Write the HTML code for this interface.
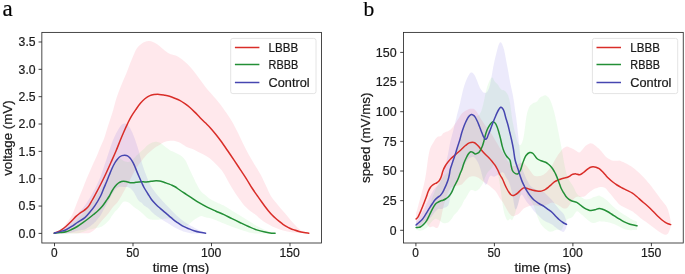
<!DOCTYPE html><html><head><meta charset="utf-8"><style>html,body{margin:0;padding:0;background:#fff;}svg{display:block;}text{font-family:"Liberation Sans",sans-serif;stroke:#1a1a1a;stroke-width:0.22px;}svg{will-change:transform;}</style></head><body>
<svg width="685" height="274" viewBox="0 0 685 274">
<rect width="685" height="274" fill="#fff"/>
<path d="M54.30 233.20 C54.92 232.83 56.58 231.85 58.00 231.00 C59.42 230.15 61.38 229.43 62.80 228.10 C64.22 226.77 65.15 224.87 66.50 223.00 C67.85 221.13 69.65 218.98 70.90 216.90 C72.15 214.82 73.07 212.65 74.00 210.50 C74.93 208.35 75.55 206.42 76.50 204.00 C77.45 201.58 78.62 198.67 79.70 196.00 C80.78 193.33 81.87 190.83 83.00 188.00 C84.13 185.17 85.33 181.83 86.50 179.00 C87.67 176.17 88.83 173.67 90.00 171.00 C91.17 168.33 92.30 165.67 93.50 163.00 C94.70 160.33 96.08 157.58 97.20 155.00 C98.32 152.42 99.05 150.25 100.20 147.50 C101.35 144.75 102.80 142.08 104.10 138.50 C105.40 134.92 106.63 130.25 108.00 126.00 C109.37 121.75 110.98 117.33 112.30 113.00 C113.62 108.67 114.72 103.83 115.90 100.00 C117.08 96.17 118.25 93.08 119.40 90.00 C120.55 86.92 121.60 84.37 122.80 81.50 C124.00 78.63 125.32 75.97 126.60 72.80 C127.88 69.63 129.15 65.90 130.50 62.50 C131.85 59.10 133.53 54.90 134.70 52.40 C135.87 49.90 136.47 48.87 137.50 47.50 C138.53 46.13 139.65 45.15 140.90 44.20 C142.15 43.25 143.65 42.32 145.00 41.80 C146.35 41.28 147.67 41.07 149.00 41.10 C150.33 41.13 151.63 41.48 153.00 42.00 C154.37 42.52 155.70 43.17 157.20 44.20 C158.70 45.23 160.30 46.83 162.00 48.20 C163.70 49.57 165.73 51.35 167.40 52.40 C169.07 53.45 170.28 53.83 172.00 54.50 C173.72 55.17 175.95 55.52 177.70 56.40 C179.45 57.28 180.80 58.43 182.50 59.80 C184.20 61.17 186.15 62.85 187.90 64.60 C189.65 66.35 191.30 68.25 193.00 70.30 C194.70 72.35 196.38 74.62 198.10 76.90 C199.82 79.18 201.60 81.73 203.30 84.00 C205.00 86.27 206.27 88.08 208.30 90.50 C210.33 92.92 213.12 95.67 215.50 98.50 C217.88 101.33 220.60 104.83 222.60 107.50 C224.60 110.17 225.93 112.17 227.50 114.50 C229.07 116.83 230.67 119.25 232.00 121.50 C233.33 123.75 234.33 125.75 235.50 128.00 C236.67 130.25 237.67 132.25 239.00 135.00 C240.33 137.75 241.92 141.28 243.50 144.50 C245.08 147.72 246.67 150.97 248.50 154.30 C250.33 157.63 252.47 161.10 254.50 164.50 C256.53 167.90 258.77 171.12 260.70 174.70 C262.63 178.28 264.45 182.53 266.10 186.00 C267.75 189.47 269.25 193.07 270.60 195.50 C271.95 197.93 272.98 199.02 274.20 200.60 C275.42 202.18 276.67 203.53 277.90 205.00 C279.13 206.47 280.38 207.98 281.60 209.40 C282.82 210.82 283.98 212.07 285.20 213.50 C286.42 214.93 287.68 216.53 288.90 218.00 C290.12 219.47 291.28 220.93 292.50 222.30 C293.72 223.67 294.98 225.02 296.20 226.20 C297.42 227.38 298.50 228.42 299.80 229.40 C301.10 230.38 302.50 231.47 304.00 232.10 C305.50 232.73 308.00 233.02 308.80 233.20 L308.80 233.20 C307.50 233.17 303.47 233.12 301.00 233.00 C298.53 232.88 295.90 232.68 294.00 232.50 C292.10 232.32 291.07 232.15 289.60 231.90 C288.13 231.65 286.55 231.32 285.20 231.00 C283.85 230.68 282.72 230.37 281.50 230.00 C280.28 229.63 279.12 229.27 277.90 228.80 C276.68 228.33 275.42 227.77 274.20 227.20 C272.98 226.63 271.80 226.03 270.60 225.40 C269.40 224.77 268.22 224.10 267.00 223.40 C265.78 222.70 264.55 222.05 263.30 221.20 C262.05 220.35 260.72 219.33 259.50 218.30 C258.28 217.27 257.02 215.83 256.00 215.00 C254.98 214.17 254.57 214.13 253.40 213.30 C252.23 212.47 250.53 211.30 249.00 210.00 C247.47 208.70 245.65 207.12 244.20 205.50 C242.75 203.88 241.75 202.30 240.30 200.30 C238.85 198.30 237.03 195.80 235.50 193.50 C233.97 191.20 232.60 189.03 231.10 186.50 C229.60 183.97 228.03 180.95 226.50 178.30 C224.97 175.65 223.68 172.98 221.90 170.60 C220.12 168.22 217.83 166.05 215.80 164.00 C213.77 161.95 211.75 159.88 209.70 158.30 C207.65 156.72 205.55 155.65 203.50 154.50 C201.45 153.35 199.45 152.38 197.40 151.40 C195.35 150.42 193.07 149.38 191.20 148.60 C189.33 147.82 187.73 147.47 186.20 146.70 C184.67 145.93 183.32 144.77 182.00 144.00 C180.68 143.23 179.47 142.60 178.30 142.10 C177.13 141.60 176.08 141.22 175.00 141.00 C173.92 140.78 172.88 140.78 171.80 140.80 C170.72 140.82 169.60 140.93 168.50 141.10 C167.40 141.27 166.20 141.48 165.20 141.80 C164.20 142.12 163.38 142.52 162.50 143.00 C161.62 143.48 161.07 144.00 159.90 144.70 C158.73 145.40 156.90 146.23 155.50 147.20 C154.10 148.17 153.08 149.12 151.50 150.50 C149.92 151.88 147.75 153.63 146.00 155.50 C144.25 157.37 142.50 159.78 141.00 161.70 C139.50 163.62 138.33 164.95 137.00 167.00 C135.67 169.05 134.33 171.50 133.00 174.00 C131.67 176.50 130.38 179.33 129.00 182.00 C127.62 184.67 126.45 186.88 124.70 190.00 C122.95 193.12 120.45 197.87 118.50 200.70 C116.55 203.53 114.70 204.88 113.00 207.00 C111.30 209.12 110.13 211.15 108.30 213.40 C106.47 215.65 104.13 217.93 102.00 220.50 C99.87 223.07 97.42 226.82 95.50 228.80 C93.58 230.78 92.20 231.65 90.50 232.40 C88.80 233.15 88.72 233.17 85.30 233.30 C81.88 233.43 75.17 233.22 70.00 233.20 C64.83 233.18 56.92 233.20 54.30 233.20 Z" fill="#ff1941" fill-opacity="0.1" stroke="none"/>
<path d="M54.30 233.11 L55.30 232.84 L56.30 232.48 L57.30 232.11 L58.30 231.75 L59.30 231.39 L60.30 231.02 L61.30 230.61 L62.30 230.21 L63.30 229.81 L64.30 229.40 L65.30 228.99 L66.30 228.48 L67.30 227.74 L68.30 226.97 L69.30 226.20 L70.30 225.43 L71.30 224.65 L72.30 223.80 L73.30 222.91 L74.30 222.03 L75.30 221.15 L76.30 220.27 L77.30 219.39 L78.30 218.35 L79.30 217.31 L80.30 216.26 L81.30 215.22 L82.30 214.18 L83.30 213.11 L84.30 212.00 L85.30 210.88 L86.30 209.77 L87.30 208.63 L88.30 207.43 L89.30 206.11 L90.30 204.74 L91.30 203.37 L92.30 201.99 L93.30 200.62 L94.30 199.21 L95.30 197.74 L96.30 196.23 L97.30 194.66 L98.30 193.07 L99.30 191.30 L100.30 189.53 L101.30 187.78 L102.30 186.08 L103.30 184.15 L104.30 182.19 L105.30 180.23 L106.30 178.26 L107.30 176.21 L108.30 174.23 L109.30 172.33 L110.30 170.13 L111.30 167.89 L112.30 165.80 L113.30 164.10 L114.30 162.48 L115.30 161.07 L116.30 160.02 L117.30 158.97 L118.30 158.20 L119.30 158.19 L120.30 158.63 L121.30 159.15 L122.30 159.96 L123.30 160.64 L124.30 161.17 L125.30 161.48 L126.30 161.67 L127.30 161.91 L128.30 162.02 L129.30 161.87 L130.30 161.46 L131.30 160.82 L132.30 159.95 L133.30 159.03 L134.30 157.98 L135.30 156.91 L136.30 155.87 L137.30 154.88 L138.30 153.91 L139.30 152.97 L140.30 152.10 L141.30 151.21 L142.30 150.35 L143.30 149.50 L144.30 148.54 L145.30 147.44 L146.30 146.32 L147.30 145.40 L148.30 144.66 L149.30 143.97 L150.30 143.41 L151.30 142.96 L152.30 142.59 L153.30 142.23 L154.30 141.97 L155.30 141.85 L156.30 141.80 L157.30 141.97 L158.30 142.24 L159.30 142.59 L160.30 143.06 L161.30 143.65 L162.30 144.33 L163.30 145.17 L164.30 146.02 L165.30 146.82 L166.30 147.60 L167.30 148.34 L168.30 149.08 L169.30 149.82 L170.30 150.44 L171.30 150.92 L172.30 151.35 L173.30 151.87 L174.30 152.36 L175.30 152.76 L176.30 153.25 L177.30 153.71 L178.30 154.20 L179.30 154.76 L180.30 155.37 L181.30 156.03 L182.30 156.77 L183.30 157.72 L184.30 158.90 L185.30 160.33 L186.30 162.08 L187.30 164.16 L188.30 166.46 L189.30 168.71 L190.30 170.90 L191.30 173.05 L192.30 175.20 L193.30 177.30 L194.30 179.36 L195.30 181.39 L196.30 183.41 L197.30 185.36 L198.30 187.23 L199.30 188.98 L200.30 190.54 L201.30 191.81 L202.30 192.79 L203.30 193.55 L204.30 194.31 L205.30 195.11 L206.30 195.94 L207.30 196.82 L208.30 197.64 L209.30 198.41 L210.30 199.10 L211.30 199.69 L212.30 200.23 L213.30 200.77 L214.30 201.31 L215.30 201.84 L216.30 202.32 L217.30 202.76 L218.30 203.19 L219.30 203.61 L220.30 204.03 L221.30 204.46 L222.30 204.88 L223.30 205.32 L224.30 205.82 L225.30 206.43 L226.30 207.07 L227.30 207.70 L228.30 208.34 L229.30 208.98 L230.30 209.62 L231.30 210.25 L232.30 210.88 L233.30 211.48 L234.30 212.09 L235.30 212.69 L236.30 213.29 L237.30 213.89 L238.30 214.50 L239.30 215.10 L240.30 215.71 L241.30 216.32 L242.30 216.94 L243.30 217.55 L244.30 218.17 L245.30 218.79 L246.30 219.41 L247.30 220.03 L248.30 220.64 L249.30 221.23 L250.30 221.83 L251.30 222.46 L252.30 223.11 L253.30 223.76 L254.30 224.41 L255.30 225.06 L256.30 225.71 L257.30 226.26 L258.30 226.76 L259.30 227.26 L260.30 227.76 L261.30 228.24 L262.30 228.71 L263.30 229.18 L264.30 229.65 L265.30 230.09 L266.30 230.46 L267.30 230.82 L268.30 231.19 L269.30 231.56 L270.30 231.90 L271.30 232.17 L272.30 232.44 L273.30 232.71 L274.30 232.97 L275.10 233.14 L275.10 233.26 L274.30 233.34 L273.30 233.40 L272.30 233.40 L271.30 233.40 L270.30 233.40 L269.30 233.40 L268.30 233.40 L267.30 233.40 L266.30 233.40 L265.30 233.40 L264.30 233.40 L263.30 233.40 L262.30 233.40 L261.30 233.40 L260.30 233.40 L259.30 233.40 L258.30 233.40 L257.30 233.40 L256.30 233.40 L255.30 233.40 L254.30 233.40 L253.30 233.22 L252.30 233.04 L251.30 232.86 L250.30 232.66 L249.30 232.43 L248.30 232.17 L247.30 231.86 L246.30 231.55 L245.30 231.24 L244.30 230.94 L243.30 230.63 L242.30 230.32 L241.30 230.01 L240.30 229.69 L239.30 229.34 L238.30 228.98 L237.30 228.62 L236.30 228.25 L235.30 227.89 L234.30 227.53 L233.30 227.17 L232.30 226.81 L231.30 226.43 L230.30 226.04 L229.30 225.65 L228.30 225.27 L227.30 224.88 L226.30 224.49 L225.30 224.10 L224.30 223.69 L223.30 223.29 L222.30 222.88 L221.30 222.46 L220.30 222.03 L219.30 221.61 L218.30 221.19 L217.30 220.76 L216.30 220.36 L215.30 219.98 L214.30 219.59 L213.30 219.22 L212.30 218.85 L211.30 218.48 L210.30 218.17 L209.30 217.94 L208.30 217.80 L207.30 217.66 L206.30 217.44 L205.30 217.18 L204.30 216.88 L203.30 216.55 L202.30 216.22 L201.30 216.10 L200.30 216.28 L199.30 216.75 L198.30 217.24 L197.30 217.79 L196.30 218.41 L195.30 219.11 L194.30 219.81 L193.30 220.55 L192.30 221.33 L191.30 222.15 L190.30 223.00 L189.30 223.89 L188.30 224.83 L187.30 225.83 L186.30 226.61 L185.30 227.06 L184.30 227.17 L183.30 227.01 L182.30 226.63 L181.30 226.03 L180.30 225.37 L179.30 224.64 L178.30 223.80 L177.30 222.86 L176.30 221.90 L175.30 221.03 L174.30 220.41 L173.30 219.87 L172.30 219.35 L171.30 218.92 L170.30 218.62 L169.30 218.46 L168.30 218.44 L167.30 218.50 L166.30 218.56 L165.30 218.64 L164.30 218.78 L163.30 218.96 L162.30 219.17 L161.30 219.39 L160.30 219.51 L159.30 219.57 L158.30 219.73 L157.30 219.80 L156.30 219.80 L155.30 219.85 L154.30 219.81 L153.30 219.76 L152.30 219.66 L151.30 219.56 L150.30 219.38 L149.30 219.08 L148.30 218.66 L147.30 218.10 L146.30 217.31 L145.30 216.32 L144.30 215.21 L143.30 214.18 L142.30 213.27 L141.30 212.43 L140.30 211.62 L139.30 210.81 L138.30 210.08 L137.30 209.37 L136.30 208.65 L135.30 207.91 L134.30 207.16 L133.30 206.39 L132.30 205.55 L131.30 204.75 L130.30 203.80 L129.30 202.91 L128.30 202.28 L127.30 201.91 L126.30 201.67 L125.30 201.48 L124.30 201.44 L123.30 201.87 L122.30 202.82 L121.30 204.05 L120.30 205.57 L119.30 207.01 L118.30 208.20 L117.30 209.43 L116.30 210.38 L115.30 211.33 L114.30 212.62 L113.30 214.00 L112.30 215.30 L111.30 216.80 L110.30 218.41 L109.30 219.97 L108.30 221.07 L107.30 222.09 L106.30 223.04 L105.30 223.90 L104.30 224.75 L103.30 225.60 L102.30 226.34 L101.30 226.73 L100.30 227.07 L99.30 227.40 L98.30 227.72 L97.30 227.87 L96.30 228.01 L95.30 228.19 L94.30 228.43 L93.30 228.70 L92.30 228.93 L91.30 229.15 L90.30 229.38 L89.30 229.61 L88.30 229.87 L87.30 230.17 L86.30 230.53 L85.30 230.92 L84.30 231.30 L83.30 231.69 L82.30 232.03 L81.30 232.35 L80.30 232.66 L79.30 232.98 L78.30 233.29 L77.30 233.40 L76.30 233.40 L75.30 233.40 L74.30 233.40 L73.30 233.40 L72.30 233.40 L71.30 233.40 L70.30 233.40 L69.30 233.40 L68.30 233.40 L67.30 233.40 L66.30 233.40 L65.30 233.40 L64.30 233.40 L63.30 233.40 L62.30 233.40 L61.30 233.40 L60.30 233.40 L59.30 233.40 L58.30 233.40 L57.30 233.40 L56.30 233.40 L55.30 233.35 L54.30 233.29 Z" fill="#55e155" fill-opacity="0.1" stroke="none"/>
<path d="M54.30 233.09 L55.30 232.58 L56.30 231.95 L57.30 231.33 L58.30 230.71 L59.30 230.09 L60.30 229.46 L61.30 228.80 L62.30 228.15 L63.30 227.50 L64.30 226.84 L65.30 226.19 L66.30 225.47 L67.30 224.52 L68.30 223.56 L69.30 222.61 L70.30 221.65 L71.30 220.70 L72.30 219.75 L73.30 218.72 L74.30 217.63 L75.30 216.55 L76.30 215.46 L77.30 214.32 L78.30 213.21 L79.30 212.06 L80.30 210.92 L81.30 209.77 L82.30 208.63 L83.30 207.48 L84.30 206.34 L85.30 205.01 L86.30 203.41 L87.30 201.82 L88.30 200.24 L89.30 198.67 L90.30 197.06 L91.30 195.31 L92.30 193.55 L93.30 191.80 L94.30 190.05 L95.30 188.21 L96.30 186.04 L97.30 183.88 L98.30 181.71 L99.30 179.53 L100.30 177.32 L101.30 174.58 L102.30 171.61 L103.30 168.63 L104.30 165.73 L105.30 162.82 L106.30 159.91 L107.30 156.86 L108.30 153.78 L109.30 150.70 L110.30 147.73 L111.30 144.81 L112.30 142.05 L113.30 139.60 L114.30 137.16 L115.30 135.11 L116.30 133.11 L117.30 131.15 L118.30 129.41 L119.30 127.67 L120.30 126.40 L121.30 125.27 L122.30 124.28 L123.30 123.74 L124.30 123.44 L125.30 123.56 L126.30 123.97 L127.30 124.49 L128.30 125.65 L129.30 127.03 L130.30 128.58 L131.30 130.52 L132.30 132.47 L133.30 134.88 L134.30 137.40 L135.30 140.32 L136.30 143.35 L137.30 146.26 L138.30 149.43 L139.30 153.04 L140.30 156.97 L141.30 160.77 L142.30 164.21 L143.30 167.25 L144.30 170.30 L145.30 172.92 L146.30 175.54 L147.30 178.16 L148.30 180.70 L149.30 182.95 L150.30 184.97 L151.30 186.81 L152.30 188.29 L153.30 189.67 L154.30 191.06 L155.30 192.44 L156.30 193.77 L157.30 194.97 L158.30 196.17 L159.30 197.37 L160.30 198.54 L161.30 199.62 L162.30 200.70 L163.30 201.77 L164.30 202.85 L165.30 203.89 L166.30 204.92 L167.30 205.95 L168.30 206.97 L169.30 208.02 L170.30 209.08 L171.30 210.15 L172.30 211.22 L173.30 212.24 L174.30 213.25 L175.30 214.26 L176.30 215.23 L177.30 216.11 L178.30 216.98 L179.30 217.84 L180.30 218.65 L181.30 219.46 L182.30 220.26 L183.30 221.07 L184.30 221.82 L185.30 222.43 L186.30 223.04 L187.30 223.65 L188.30 224.26 L189.30 224.87 L190.30 225.43 L191.30 225.99 L192.30 226.56 L193.30 227.12 L194.30 227.66 L195.30 228.15 L196.30 228.68 L197.30 229.23 L198.30 229.78 L199.30 230.33 L200.30 230.85 L201.30 231.29 L202.30 231.74 L203.30 232.18 L204.30 232.62 L205.30 233.00 L205.60 233.17 L205.60 233.23 L205.30 233.30 L204.30 233.36 L203.30 233.40 L202.30 233.40 L201.30 233.40 L200.30 233.40 L199.30 233.40 L198.30 233.40 L197.30 233.40 L196.30 233.40 L195.30 233.40 L194.30 233.40 L193.30 233.40 L192.30 233.40 L191.30 233.38 L190.30 233.19 L189.30 233.01 L188.30 232.78 L187.30 232.54 L186.30 232.30 L185.30 232.07 L184.30 231.83 L183.30 231.46 L182.30 231.03 L181.30 230.59 L180.30 230.16 L179.30 229.74 L178.30 229.28 L177.30 228.82 L176.30 228.37 L175.30 227.82 L174.30 227.23 L173.30 226.64 L172.30 226.04 L171.30 225.39 L170.30 224.75 L169.30 224.10 L168.30 223.48 L167.30 222.87 L166.30 222.26 L165.30 221.66 L164.30 221.04 L163.30 220.38 L162.30 219.73 L161.30 219.08 L160.30 218.44 L159.30 217.76 L158.30 217.10 L157.30 216.44 L156.30 215.79 L155.30 215.00 L154.30 214.17 L153.30 213.33 L152.30 212.49 L151.30 211.56 L150.30 210.26 L149.30 209.13 L148.30 208.24 L147.30 207.56 L146.30 206.94 L145.30 206.32 L144.30 205.70 L143.30 204.65 L142.30 203.61 L141.30 202.62 L140.30 201.90 L139.30 201.31 L138.30 200.27 L137.30 198.72 L136.30 196.85 L135.30 194.88 L134.30 193.00 L133.30 191.52 L132.30 190.15 L131.30 189.22 L130.30 188.28 L129.30 187.73 L128.30 187.35 L127.30 187.02 L126.30 187.10 L125.30 187.06 L124.30 187.10 L123.30 187.08 L122.30 186.83 L121.30 186.71 L120.30 186.70 L119.30 186.78 L118.30 187.28 L117.30 187.78 L116.30 188.57 L115.30 189.52 L114.30 190.64 L113.30 192.20 L112.30 193.75 L111.30 195.52 L110.30 197.38 L109.30 199.21 L108.30 201.16 L107.30 203.11 L106.30 205.03 L105.30 206.81 L104.30 208.59 L103.30 210.37 L102.30 212.21 L101.30 214.05 L100.30 215.71 L99.30 216.91 L98.30 218.15 L97.30 219.40 L96.30 220.65 L95.30 221.90 L94.30 222.82 L93.30 223.66 L92.30 224.49 L91.30 225.33 L90.30 226.17 L89.30 226.86 L88.30 227.49 L87.30 228.11 L86.30 228.71 L85.30 229.31 L84.30 229.64 L83.30 229.78 L82.30 229.93 L81.30 230.07 L80.30 230.22 L79.30 230.36 L78.30 230.51 L77.30 230.68 L76.30 230.98 L75.30 231.32 L74.30 231.67 L73.30 232.02 L72.30 232.33 L71.30 232.55 L70.30 232.78 L69.30 233.01 L68.30 233.24 L67.30 233.40 L66.30 233.40 L65.30 233.40 L64.30 233.40 L63.30 233.40 L62.30 233.40 L61.30 233.40 L60.30 233.40 L59.30 233.40 L58.30 233.40 L57.30 233.38 L56.30 233.32 L55.30 233.26 L54.30 233.31 Z" fill="#412dd7" fill-opacity="0.1" stroke="none"/>
<path d="M54.30 233.20 C54.58 233.08 55.05 232.90 56.00 232.50 C56.95 232.10 58.67 231.55 60.00 230.80 C61.33 230.05 62.67 229.05 64.00 228.00 C65.33 226.95 66.67 225.75 68.00 224.50 C69.33 223.25 70.67 221.85 72.00 220.50 C73.33 219.15 74.75 217.57 76.00 216.40 C77.25 215.23 78.33 214.37 79.50 213.50 C80.67 212.63 81.92 211.97 83.00 211.20 C84.08 210.43 85.00 209.83 86.00 208.90 C87.00 207.97 88.00 207.00 89.00 205.60 C90.00 204.20 90.95 202.35 92.00 200.50 C93.05 198.65 94.17 196.58 95.30 194.50 C96.43 192.42 97.22 191.08 98.80 188.00 C100.38 184.92 102.78 180.25 104.80 176.00 C106.82 171.75 109.03 166.67 110.90 162.50 C112.77 158.33 114.42 154.75 116.00 151.00 C117.58 147.25 119.07 143.25 120.40 140.00 C121.73 136.75 122.82 134.20 124.00 131.50 C125.18 128.80 126.30 126.28 127.50 123.80 C128.70 121.32 129.80 118.98 131.20 116.60 C132.60 114.22 134.33 111.75 135.90 109.50 C137.47 107.25 139.05 104.93 140.60 103.10 C142.15 101.27 143.65 99.75 145.20 98.50 C146.75 97.25 148.43 96.25 149.90 95.60 C151.37 94.95 152.43 94.80 154.00 94.60 C155.57 94.40 157.55 94.30 159.30 94.40 C161.05 94.50 162.80 94.88 164.50 95.20 C166.20 95.52 167.80 95.80 169.50 96.30 C171.20 96.80 173.00 97.52 174.70 98.20 C176.40 98.88 178.00 99.48 179.70 100.40 C181.40 101.32 183.20 102.52 184.90 103.70 C186.60 104.88 188.22 106.05 189.90 107.50 C191.58 108.95 193.30 110.70 195.00 112.40 C196.70 114.10 198.38 115.97 200.10 117.70 C201.82 119.43 203.58 121.10 205.30 122.80 C207.02 124.50 208.70 126.03 210.40 127.90 C212.10 129.77 213.75 131.82 215.50 134.00 C217.25 136.18 218.90 138.25 220.90 141.00 C222.90 143.75 225.28 147.27 227.50 150.50 C229.72 153.73 232.07 157.22 234.20 160.40 C236.33 163.58 238.27 166.53 240.30 169.60 C242.33 172.67 244.45 175.73 246.40 178.80 C248.35 181.87 250.15 185.13 252.00 188.00 C253.85 190.87 255.97 193.78 257.50 196.00 C259.03 198.22 259.98 199.60 261.20 201.30 C262.42 203.00 263.58 204.60 264.80 206.20 C266.02 207.80 267.28 209.43 268.50 210.90 C269.72 212.37 270.88 213.73 272.10 215.00 C273.32 216.27 274.58 217.42 275.80 218.50 C277.02 219.58 278.20 220.53 279.40 221.50 C280.60 222.47 281.78 223.43 283.00 224.30 C284.22 225.17 285.48 226.00 286.70 226.70 C287.92 227.40 289.08 227.97 290.30 228.50 C291.52 229.03 292.55 229.40 294.00 229.90 C295.45 230.40 297.33 231.07 299.00 231.50 C300.67 231.93 302.37 232.22 304.00 232.50 C305.63 232.78 308.00 233.08 308.80 233.20" fill="none" stroke="#d92d28" stroke-width="1.5" stroke-linejoin="round" stroke-linecap="round"/>
<path d="M54.30 233.20 C55.25 233.10 58.03 232.85 60.00 232.60 C61.97 232.35 64.18 232.22 66.10 231.70 C68.02 231.18 69.63 230.37 71.50 229.50 C73.37 228.63 75.40 227.63 77.30 226.50 C79.20 225.37 81.03 224.03 82.90 222.70 C84.77 221.37 86.73 219.87 88.50 218.50 C90.27 217.13 91.88 215.83 93.50 214.50 C95.12 213.17 96.70 211.92 98.20 210.50 C99.70 209.08 101.17 207.62 102.50 206.00 C103.83 204.38 105.05 202.47 106.20 200.80 C107.35 199.13 108.43 197.63 109.40 196.00 C110.37 194.37 111.07 192.58 112.00 191.00 C112.93 189.42 113.92 187.83 115.00 186.50 C116.08 185.17 117.42 183.83 118.50 183.00 C119.58 182.17 120.63 181.80 121.50 181.50 C122.37 181.20 122.95 181.18 123.70 181.20 C124.45 181.22 125.20 181.43 126.00 181.60 C126.80 181.77 127.67 182.00 128.50 182.20 C129.33 182.40 130.17 182.72 131.00 182.80 C131.83 182.88 132.67 182.78 133.50 182.70 C134.33 182.62 135.08 182.43 136.00 182.30 C136.92 182.17 138.00 181.98 139.00 181.90 C140.00 181.82 141.00 181.80 142.00 181.80 C143.00 181.80 144.00 181.92 145.00 181.90 C146.00 181.88 147.00 181.80 148.00 181.70 C149.00 181.60 150.00 181.43 151.00 181.30 C152.00 181.17 153.10 180.98 154.00 180.90 C154.90 180.82 155.48 180.77 156.40 180.80 C157.32 180.83 158.48 180.93 159.50 181.10 C160.52 181.27 161.50 181.52 162.50 181.80 C163.50 182.08 164.47 182.45 165.50 182.80 C166.53 183.15 167.62 183.50 168.70 183.90 C169.78 184.30 170.87 184.68 172.00 185.20 C173.13 185.72 174.33 186.28 175.50 187.00 C176.67 187.72 177.42 188.42 179.00 189.50 C180.58 190.58 182.95 192.15 185.00 193.50 C187.05 194.85 188.97 196.07 191.30 197.60 C193.63 199.13 196.28 201.07 199.00 202.70 C201.72 204.33 204.85 206.02 207.60 207.40 C210.35 208.78 212.77 209.80 215.50 211.00 C218.23 212.20 221.25 213.32 224.00 214.60 C226.75 215.88 229.28 217.35 232.00 218.70 C234.72 220.05 237.55 221.40 240.30 222.70 C243.05 224.00 245.77 225.30 248.50 226.50 C251.23 227.70 253.95 228.97 256.70 229.90 C259.45 230.83 262.78 231.60 265.00 232.10 C267.22 232.60 268.32 232.72 270.00 232.90 C271.68 233.08 274.25 233.15 275.10 233.20" fill="none" stroke="#238f36" stroke-width="1.5" stroke-linejoin="round" stroke-linecap="round"/>
<path d="M54.30 233.20 C55.25 232.93 58.03 232.18 60.00 231.60 C61.97 231.02 63.98 230.67 66.10 229.70 C68.22 228.73 70.83 227.00 72.70 225.80 C74.57 224.60 75.27 223.87 77.30 222.50 C79.33 221.13 82.78 219.35 84.90 217.60 C87.02 215.85 88.30 214.03 90.00 212.00 C91.70 209.97 93.33 208.07 95.10 205.40 C96.87 202.73 99.23 198.65 100.60 196.00 C101.97 193.35 102.32 191.83 103.30 189.50 C104.28 187.17 105.48 184.47 106.50 182.00 C107.52 179.53 108.48 176.95 109.40 174.70 C110.32 172.45 111.15 170.37 112.00 168.50 C112.85 166.63 113.67 164.95 114.50 163.50 C115.33 162.05 116.17 160.88 117.00 159.80 C117.83 158.72 118.67 157.70 119.50 157.00 C120.33 156.30 121.12 155.90 122.00 155.60 C122.88 155.30 123.88 155.17 124.80 155.20 C125.72 155.23 126.63 155.33 127.50 155.80 C128.37 156.27 129.17 157.03 130.00 158.00 C130.83 158.97 131.75 160.33 132.50 161.60 C133.25 162.87 133.83 164.10 134.50 165.60 C135.17 167.10 135.75 168.78 136.50 170.60 C137.25 172.42 138.07 174.35 139.00 176.50 C139.93 178.65 141.22 181.58 142.10 183.50 C142.98 185.42 143.32 186.25 144.30 188.00 C145.28 189.75 146.80 192.08 148.00 194.00 C149.20 195.92 150.17 197.75 151.50 199.50 C152.83 201.25 154.55 203.02 156.00 204.50 C157.45 205.98 158.77 207.12 160.20 208.40 C161.63 209.68 163.13 210.97 164.60 212.20 C166.07 213.43 167.68 214.70 169.00 215.80 C170.32 216.90 171.33 217.83 172.50 218.80 C173.67 219.77 174.92 220.80 176.00 221.60 C177.08 222.40 177.67 222.75 179.00 223.60 C180.33 224.45 182.30 225.82 184.00 226.70 C185.70 227.58 187.53 228.23 189.20 228.90 C190.87 229.57 192.20 230.13 194.00 230.70 C195.80 231.27 198.07 231.88 200.00 232.30 C201.93 232.72 204.67 233.05 205.60 233.20" fill="none" stroke="#4646b0" stroke-width="1.5" stroke-linejoin="round" stroke-linecap="round"/>
<rect x="230.70" y="38.40" width="85.30" height="55.20" rx="2.2" fill="#fff" fill-opacity="0.8" stroke="#e4e4e4" stroke-width="1"/>
<line x1="234.90" y1="47.50" x2="259.40" y2="47.50" stroke="#d92d28" stroke-width="1.5"/>
<text x="268.60" y="51.80" font-size="12.5" fill="#1a1a1a" textLength="29.60" lengthAdjust="spacingAndGlyphs">LBBB</text>
<line x1="234.90" y1="64.50" x2="259.40" y2="64.50" stroke="#238f36" stroke-width="1.5"/>
<text x="268.60" y="68.80" font-size="12.5" fill="#1a1a1a" textLength="29.60" lengthAdjust="spacingAndGlyphs">RBBB</text>
<line x1="234.90" y1="82.50" x2="259.40" y2="82.50" stroke="#4646b0" stroke-width="1.5"/>
<text x="268.60" y="86.80" font-size="12.5" fill="#1a1a1a" textLength="41.00" lengthAdjust="spacingAndGlyphs">Control</text>
<rect x="41.85" y="32.40" width="279.65" height="210.60" fill="none" stroke="#2a2a2a" stroke-width="0.85"/>
<line x1="38.55" y1="233.40" x2="41.85" y2="233.40" stroke="#222" stroke-width="0.85"/>
<text x="35.60" y="237.70" font-size="13.6" fill="#1a1a1a" text-anchor="end" textLength="17.00" lengthAdjust="spacingAndGlyphs">0.0</text>
<line x1="38.55" y1="206.06" x2="41.85" y2="206.06" stroke="#222" stroke-width="0.85"/>
<text x="35.60" y="210.36" font-size="13.6" fill="#1a1a1a" text-anchor="end" textLength="17.00" lengthAdjust="spacingAndGlyphs">0.5</text>
<line x1="38.55" y1="178.71" x2="41.85" y2="178.71" stroke="#222" stroke-width="0.85"/>
<text x="35.60" y="183.01" font-size="13.6" fill="#1a1a1a" text-anchor="end" textLength="17.00" lengthAdjust="spacingAndGlyphs">1.0</text>
<line x1="38.55" y1="151.37" x2="41.85" y2="151.37" stroke="#222" stroke-width="0.85"/>
<text x="35.60" y="155.67" font-size="13.6" fill="#1a1a1a" text-anchor="end" textLength="17.00" lengthAdjust="spacingAndGlyphs">1.5</text>
<line x1="38.55" y1="124.02" x2="41.85" y2="124.02" stroke="#222" stroke-width="0.85"/>
<text x="35.60" y="128.32" font-size="13.6" fill="#1a1a1a" text-anchor="end" textLength="17.00" lengthAdjust="spacingAndGlyphs">2.0</text>
<line x1="38.55" y1="96.68" x2="41.85" y2="96.68" stroke="#222" stroke-width="0.85"/>
<text x="35.60" y="100.98" font-size="13.6" fill="#1a1a1a" text-anchor="end" textLength="17.00" lengthAdjust="spacingAndGlyphs">2.5</text>
<line x1="38.55" y1="69.33" x2="41.85" y2="69.33" stroke="#222" stroke-width="0.85"/>
<text x="35.60" y="73.63" font-size="13.6" fill="#1a1a1a" text-anchor="end" textLength="17.00" lengthAdjust="spacingAndGlyphs">3.0</text>
<line x1="38.55" y1="41.99" x2="41.85" y2="41.99" stroke="#222" stroke-width="0.85"/>
<text x="35.60" y="46.29" font-size="13.6" fill="#1a1a1a" text-anchor="end" textLength="17.00" lengthAdjust="spacingAndGlyphs">3.5</text>
<line x1="54.50" y1="243.00" x2="54.50" y2="246.30" stroke="#222" stroke-width="0.85"/>
<text x="54.20" y="257.10" font-size="13.6" fill="#1a1a1a" text-anchor="middle" textLength="6.60" lengthAdjust="spacingAndGlyphs">0</text>
<line x1="133.00" y1="243.00" x2="133.00" y2="246.30" stroke="#222" stroke-width="0.85"/>
<text x="132.70" y="257.10" font-size="13.6" fill="#1a1a1a" text-anchor="middle" textLength="13.00" lengthAdjust="spacingAndGlyphs">50</text>
<line x1="211.50" y1="243.00" x2="211.50" y2="246.30" stroke="#222" stroke-width="0.85"/>
<text x="211.20" y="257.10" font-size="13.6" fill="#1a1a1a" text-anchor="middle" textLength="20.40" lengthAdjust="spacingAndGlyphs">100</text>
<line x1="290.00" y1="243.00" x2="290.00" y2="246.30" stroke="#222" stroke-width="0.85"/>
<text x="289.70" y="257.10" font-size="13.6" fill="#1a1a1a" text-anchor="middle" textLength="20.40" lengthAdjust="spacingAndGlyphs">150</text>
<text x="181.00" y="271.60" font-size="12.4" fill="#1a1a1a" text-anchor="middle" textLength="56.50" lengthAdjust="spacingAndGlyphs">time (ms)</text>
<text transform="translate(12.20 138.10) rotate(-90)" x="0" y="0" font-size="12.4" fill="#1a1a1a" text-anchor="middle" textLength="75.50" lengthAdjust="spacingAndGlyphs">voltage (mV)</text>
<text x="2.40" y="16.20" font-size="23" fill="#000" style="font-family:'Liberation Serif',serif">a</text>
<path d="M416.10 213.11 L417.10 209.90 L418.10 206.27 L419.10 202.22 L420.10 198.77 L421.10 195.29 L422.10 191.50 L423.10 187.65 L424.10 183.75 L425.10 178.97 L426.10 172.92 L427.10 165.44 L428.10 158.12 L429.10 152.54 L430.10 148.56 L431.10 146.19 L432.10 144.53 L433.10 143.05 L434.10 141.31 L435.10 139.61 L436.10 138.21 L437.10 137.21 L438.10 136.56 L439.10 136.39 L440.10 136.24 L441.10 136.07 L442.10 134.77 L443.10 133.26 L444.10 132.78 L445.10 132.16 L446.10 131.82 L447.10 131.60 L448.10 131.13 L449.10 130.62 L450.10 130.00 L451.10 129.05 L452.10 128.02 L453.10 126.63 L454.10 125.23 L455.10 123.84 L456.10 122.39 L457.10 120.87 L458.10 119.27 L459.10 117.63 L460.10 115.96 L461.10 114.46 L462.10 113.28 L463.10 112.41 L464.10 111.69 L465.10 110.98 L466.10 110.42 L467.10 109.96 L468.10 109.48 L469.10 108.96 L470.10 108.85 L471.10 108.83 L472.10 108.81 L473.10 108.79 L474.10 109.07 L475.10 109.95 L476.10 111.02 L477.10 112.55 L478.10 114.08 L479.10 115.75 L480.10 117.49 L481.10 119.16 L482.10 120.77 L483.10 122.26 L484.10 123.75 L485.10 125.24 L486.10 126.62 L487.10 127.90 L488.10 129.14 L489.10 130.35 L490.10 131.79 L491.10 133.24 L492.10 134.74 L493.10 136.45 L494.10 138.26 L495.10 139.98 L496.10 141.79 L497.10 143.32 L498.10 144.97 L499.10 146.78 L500.10 148.58 L501.10 150.01 L502.10 151.40 L503.10 153.04 L504.10 155.05 L505.10 156.95 L506.10 158.62 L507.10 160.25 L508.10 161.55 L509.10 162.86 L510.10 163.90 L511.10 165.06 L512.10 165.71 L513.10 166.11 L514.10 165.95 L515.10 165.75 L516.10 165.26 L517.10 164.77 L518.10 164.23 L519.10 163.48 L520.10 162.96 L521.10 162.73 L522.10 162.86 L523.10 162.99 L524.10 163.46 L525.10 164.42 L526.10 165.39 L527.10 166.56 L528.10 167.89 L529.10 169.29 L530.10 170.68 L531.10 172.08 L532.10 173.47 L533.10 174.81 L534.10 175.63 L535.10 176.06 L536.10 176.13 L537.10 176.18 L538.10 176.14 L539.10 176.09 L540.10 176.02 L541.10 175.69 L542.10 175.36 L543.10 174.93 L544.10 174.30 L545.10 173.61 L546.10 172.68 L547.10 171.64 L548.10 170.60 L549.10 169.49 L550.10 168.33 L551.10 167.00 L552.10 165.38 L553.10 163.46 L554.10 161.44 L555.10 159.67 L556.10 158.02 L557.10 156.41 L558.10 154.86 L559.10 153.51 L560.10 152.16 L561.10 150.81 L562.10 149.52 L563.10 148.53 L564.10 147.77 L565.10 147.21 L566.10 146.69 L567.10 146.60 L568.10 146.81 L569.10 147.33 L570.10 147.79 L571.10 148.07 L572.10 148.44 L573.10 149.09 L574.10 149.61 L575.10 150.21 L576.10 150.77 L577.10 151.58 L578.10 152.28 L579.10 152.59 L580.10 152.27 L581.10 151.07 L582.10 149.88 L583.10 148.68 L584.10 147.42 L585.10 146.32 L586.10 145.48 L587.10 144.85 L588.10 144.33 L589.10 143.80 L590.10 143.33 L591.10 143.40 L592.10 143.61 L593.10 143.99 L594.10 144.76 L595.10 145.54 L596.10 146.34 L597.10 147.29 L598.10 148.12 L599.10 148.82 L600.10 149.91 L601.10 151.04 L602.10 152.18 L603.10 153.47 L604.10 154.80 L605.10 155.98 L606.10 156.95 L607.10 157.71 L608.10 158.44 L609.10 159.06 L610.10 159.61 L611.10 160.14 L612.10 160.54 L613.10 160.76 L614.10 160.77 L615.10 160.77 L616.10 160.77 L617.10 160.76 L618.10 160.63 L619.10 160.62 L620.10 160.83 L621.10 161.25 L622.10 161.69 L623.10 162.11 L624.10 162.52 L625.10 162.94 L626.10 163.42 L627.10 163.95 L628.10 164.55 L629.10 165.15 L630.10 165.75 L631.10 166.35 L632.10 166.93 L633.10 167.69 L634.10 168.51 L635.10 169.33 L636.10 170.16 L637.10 170.99 L638.10 171.92 L639.10 172.84 L640.10 173.77 L641.10 174.69 L642.10 175.64 L643.10 176.67 L644.10 177.79 L645.10 178.90 L646.10 180.05 L647.10 181.24 L648.10 182.42 L649.10 183.60 L650.10 184.80 L651.10 186.07 L652.10 187.36 L653.10 188.68 L654.10 190.01 L655.10 191.36 L656.10 192.71 L657.10 194.08 L658.10 195.47 L659.10 196.83 L660.10 198.13 L661.10 199.43 L662.10 200.72 L663.10 201.90 L664.10 203.14 L665.10 204.42 L666.10 205.79 L667.10 207.63 L668.10 210.08 L669.10 213.85 L670.10 218.11 L670.70 221.42 L670.70 226.82 L670.10 228.84 L669.10 231.32 L668.10 233.45 L667.10 234.33 L666.10 234.73 L665.10 234.74 L664.10 234.40 L663.10 234.03 L662.10 233.62 L661.10 233.01 L660.10 232.37 L659.10 231.74 L658.10 231.05 L657.10 230.32 L656.10 229.58 L655.10 228.83 L654.10 228.07 L653.10 227.31 L652.10 226.53 L651.10 225.73 L650.10 224.92 L649.10 224.20 L648.10 223.48 L647.10 222.76 L646.10 222.05 L645.10 221.36 L644.10 220.71 L643.10 220.07 L642.10 219.36 L641.10 218.58 L640.10 217.69 L639.10 216.80 L638.10 215.91 L637.10 215.02 L636.10 214.22 L635.10 213.43 L634.10 212.64 L633.10 211.85 L632.10 211.15 L631.10 210.68 L630.10 210.21 L629.10 209.75 L628.10 209.30 L627.10 208.84 L626.10 208.37 L625.10 207.87 L624.10 207.32 L623.10 206.78 L622.10 206.23 L621.10 205.66 L620.10 204.96 L619.10 204.13 L618.10 203.14 L617.10 202.06 L616.10 200.87 L615.10 199.65 L614.10 198.44 L613.10 197.23 L612.10 195.97 L611.10 194.75 L610.10 193.61 L609.10 192.50 L608.10 191.31 L607.10 190.01 L606.10 188.79 L605.10 187.94 L604.10 187.45 L603.10 187.25 L602.10 187.09 L601.10 187.10 L600.10 187.10 L599.10 187.14 L598.10 187.58 L597.10 187.92 L596.10 188.15 L595.10 188.56 L594.10 189.00 L593.10 189.44 L592.10 190.27 L591.10 191.02 L590.10 191.62 L589.10 192.48 L588.10 193.37 L587.10 194.26 L586.10 195.24 L585.10 196.05 L584.10 196.60 L583.10 196.82 L582.10 196.86 L581.10 196.91 L580.10 196.96 L579.10 196.67 L578.10 196.52 L577.10 196.74 L576.10 197.08 L575.10 197.68 L574.10 198.38 L573.10 199.43 L572.10 200.64 L571.10 202.27 L570.10 203.99 L569.10 205.53 L568.10 207.01 L567.10 208.02 L566.10 208.46 L565.10 208.47 L564.10 208.43 L563.10 208.17 L562.10 207.68 L561.10 207.01 L560.10 206.36 L559.10 205.71 L558.10 205.06 L557.10 204.54 L556.10 203.98 L555.10 203.39 L554.10 202.90 L553.10 202.67 L552.10 202.55 L551.10 202.69 L550.10 203.08 L549.10 203.65 L548.10 204.15 L547.10 204.59 L546.10 205.03 L545.10 205.36 L544.10 205.60 L543.10 205.90 L542.10 206.11 L541.10 206.22 L540.10 206.34 L539.10 206.19 L538.10 206.02 L537.10 205.85 L536.10 205.58 L535.10 205.30 L534.10 205.19 L533.10 205.29 L532.10 205.46 L531.10 205.64 L530.10 205.81 L529.10 206.06 L528.10 206.40 L527.10 206.82 L526.10 207.33 L525.10 207.87 L524.10 208.29 L523.10 209.09 L522.10 210.22 L521.10 211.34 L520.10 212.44 L519.10 213.39 L518.10 214.13 L517.10 214.63 L516.10 215.11 L515.10 215.65 L514.10 215.94 L513.10 216.20 L512.10 215.90 L511.10 215.41 L510.10 214.29 L509.10 213.16 L508.10 211.58 L507.10 209.99 L506.10 208.07 L505.10 206.26 L504.10 204.39 L503.10 202.59 L502.10 201.20 L501.10 200.07 L500.10 198.83 L499.10 197.07 L498.10 195.19 L497.10 193.46 L496.10 192.00 L495.10 190.66 L494.10 189.80 L493.10 189.01 L492.10 188.12 L491.10 187.25 L490.10 186.35 L489.10 185.45 L488.10 184.78 L487.10 184.13 L486.10 183.51 L485.10 182.87 L484.10 182.15 L483.10 181.42 L482.10 180.70 L481.10 179.86 L480.10 178.99 L479.10 178.18 L478.10 177.55 L477.10 177.16 L476.10 176.77 L475.10 176.55 L474.10 176.21 L473.10 176.15 L472.10 176.35 L471.10 176.56 L470.10 176.77 L469.10 177.11 L468.10 177.96 L467.10 178.85 L466.10 179.76 L465.10 180.78 L464.10 181.95 L463.10 183.12 L462.10 184.13 L461.10 184.78 L460.10 185.11 L459.10 185.28 L458.10 185.42 L457.10 185.56 L456.10 185.78 L455.10 186.07 L454.10 186.40 L453.10 186.74 L452.10 187.08 L451.10 187.77 L450.10 189.11 L449.10 190.84 L448.10 192.67 L447.10 194.97 L446.10 197.52 L445.10 200.51 L444.10 204.05 L443.10 207.72 L442.10 212.77 L441.10 217.78 L440.10 221.84 L439.10 225.03 L438.10 227.18 L437.10 227.95 L436.10 228.11 L435.10 227.51 L434.10 226.82 L433.10 226.42 L432.10 226.53 L431.10 227.06 L430.10 227.20 L429.10 227.02 L428.10 225.62 L427.10 224.00 L426.10 222.13 L425.10 221.32 L424.10 221.75 L423.10 222.85 L422.10 224.00 L421.10 225.21 L420.10 226.14 L419.10 227.03 L418.10 227.33 L417.10 225.90 L416.10 224.89 Z" fill="#ff1941" fill-opacity="0.1" stroke="none"/>
<path d="M416.10 225.25 L417.10 224.95 L418.10 224.48 L419.10 223.86 L420.10 223.24 L421.10 222.13 L422.10 220.90 L423.10 219.67 L424.10 218.17 L425.10 216.39 L426.10 214.50 L427.10 212.04 L428.10 209.27 L429.10 206.51 L430.10 203.68 L431.10 200.82 L432.10 197.95 L433.10 195.33 L434.10 192.93 L435.10 190.42 L436.10 188.30 L437.10 186.40 L438.10 184.63 L439.10 183.04 L440.10 181.45 L441.10 179.95 L442.10 178.52 L443.10 177.29 L444.10 176.12 L445.10 175.14 L446.10 174.01 L447.10 172.83 L448.10 171.69 L449.10 170.20 L450.10 168.65 L451.10 166.69 L452.10 164.55 L453.10 161.64 L454.10 158.57 L455.10 155.67 L456.10 152.77 L457.10 149.86 L458.10 146.65 L459.10 143.15 L460.10 139.67 L461.10 136.33 L462.10 132.97 L463.10 129.04 L464.10 125.19 L465.10 122.06 L466.10 118.98 L467.10 116.72 L468.10 115.05 L469.10 114.30 L470.10 113.88 L471.10 113.73 L472.10 114.36 L473.10 114.91 L474.10 115.72 L475.10 116.52 L476.10 116.49 L477.10 116.31 L478.10 115.72 L479.10 114.99 L480.10 113.59 L481.10 111.39 L482.10 108.55 L483.10 104.72 L484.10 100.15 L485.10 95.07 L486.10 90.73 L487.10 87.08 L488.10 84.02 L489.10 81.70 L490.10 79.59 L491.10 77.93 L492.10 77.35 L493.10 78.26 L494.10 80.45 L495.10 82.07 L496.10 82.90 L497.10 83.85 L498.10 84.94 L499.10 86.72 L500.10 88.19 L501.10 89.33 L502.10 90.18 L503.10 90.01 L504.10 90.56 L505.10 91.01 L506.10 92.24 L507.10 93.41 L508.10 95.32 L509.10 98.40 L510.10 103.23 L511.10 110.97 L512.10 118.43 L513.10 123.92 L514.10 128.86 L515.10 133.19 L516.10 137.09 L517.10 140.65 L518.10 143.53 L519.10 144.65 L520.10 145.27 L521.10 144.43 L522.10 142.49 L523.10 139.26 L524.10 133.90 L525.10 126.18 L526.10 118.42 L527.10 113.12 L528.10 109.63 L529.10 107.19 L530.10 105.52 L531.10 104.81 L532.10 103.93 L533.10 102.98 L534.10 102.76 L535.10 102.53 L536.10 102.12 L537.10 101.41 L538.10 99.94 L539.10 98.52 L540.10 97.50 L541.10 96.85 L542.10 96.38 L543.10 95.90 L544.10 95.46 L545.10 95.28 L546.10 95.56 L547.10 96.29 L548.10 97.01 L549.10 98.19 L550.10 99.95 L551.10 102.19 L552.10 104.93 L553.10 108.17 L554.10 111.76 L555.10 115.99 L556.10 120.40 L557.10 125.37 L558.10 130.39 L559.10 135.48 L560.10 140.75 L561.10 146.01 L562.10 151.22 L563.10 157.19 L564.10 163.09 L565.10 168.12 L566.10 172.25 L567.10 175.46 L568.10 178.19 L569.10 180.41 L570.10 181.81 L571.10 183.22 L572.10 184.75 L573.10 186.37 L574.10 188.31 L575.10 190.40 L576.10 192.43 L577.10 194.01 L578.10 195.22 L579.10 195.85 L580.10 196.48 L581.10 197.11 L582.10 197.71 L583.10 198.32 L584.10 198.91 L585.10 199.33 L586.10 199.39 L587.10 199.34 L588.10 199.27 L589.10 199.01 L590.10 198.74 L591.10 198.43 L592.10 197.77 L593.10 197.28 L594.10 196.96 L595.10 196.77 L596.10 196.43 L597.10 196.10 L598.10 195.78 L599.10 195.53 L600.10 195.92 L601.10 196.43 L602.10 196.95 L603.10 197.47 L604.10 198.17 L605.10 198.94 L606.10 199.75 L607.10 200.59 L608.10 201.51 L609.10 202.47 L610.10 203.43 L611.10 204.39 L612.10 205.38 L613.10 206.38 L614.10 207.37 L615.10 208.27 L616.10 209.08 L617.10 209.81 L618.10 210.53 L619.10 211.26 L620.10 211.97 L621.10 212.67 L622.10 213.37 L623.10 214.07 L624.10 214.69 L625.10 215.20 L626.10 215.77 L627.10 216.40 L628.10 217.09 L629.10 217.77 L630.10 218.44 L631.10 218.93 L632.10 219.41 L633.10 219.90 L634.10 220.39 L635.10 220.87 L636.10 221.35 L637.00 221.72 L637.00 229.88 L636.10 229.86 L635.10 229.91 L634.10 229.97 L633.10 230.03 L632.10 230.09 L631.10 230.14 L630.10 230.20 L629.10 230.08 L628.10 229.94 L627.10 229.80 L626.10 229.61 L625.10 229.35 L624.10 229.04 L623.10 228.60 L622.10 228.08 L621.10 227.56 L620.10 227.04 L619.10 226.51 L618.10 225.97 L617.10 225.42 L616.10 224.88 L615.10 224.41 L614.10 224.01 L613.10 223.71 L612.10 223.41 L611.10 223.12 L610.10 222.86 L609.10 222.60 L608.10 222.34 L607.10 222.12 L606.10 221.98 L605.10 221.81 L604.10 221.61 L603.10 221.42 L602.10 221.40 L601.10 221.38 L600.10 221.37 L599.10 221.33 L598.10 221.76 L597.10 222.10 L596.10 222.43 L595.10 222.77 L594.10 222.96 L593.10 222.98 L592.10 222.84 L591.10 222.53 L590.10 221.84 L589.10 221.11 L588.10 220.37 L587.10 219.44 L586.10 218.49 L585.10 217.65 L584.10 216.71 L583.10 215.85 L582.10 214.99 L581.10 214.13 L580.10 213.26 L579.10 212.38 L578.10 211.50 L577.10 211.20 L576.10 211.84 L575.10 213.31 L574.10 214.85 L573.10 216.24 L572.10 217.30 L571.10 217.82 L570.10 218.16 L569.10 218.50 L568.10 218.87 L567.10 219.67 L566.10 220.94 L565.10 222.05 L564.10 223.94 L563.10 226.63 L562.10 228.88 L561.10 230.36 L560.10 230.25 L559.10 229.98 L558.10 229.89 L557.10 229.87 L556.10 229.80 L555.10 230.18 L554.10 230.62 L553.10 231.16 L552.10 231.44 L551.10 231.61 L550.10 231.85 L549.10 231.61 L548.10 231.01 L547.10 230.29 L546.10 229.56 L545.10 228.80 L544.10 227.96 L543.10 226.86 L542.10 225.74 L541.10 224.61 L540.10 222.94 L539.10 220.84 L538.10 218.34 L537.10 215.81 L536.10 212.82 L535.10 209.86 L534.10 207.06 L533.10 204.28 L532.10 202.53 L531.10 201.04 L530.10 199.72 L529.10 198.79 L528.10 197.96 L527.10 196.10 L526.10 192.42 L525.10 188.67 L524.10 185.25 L523.10 185.14 L522.10 187.55 L521.10 191.84 L520.10 195.93 L519.10 199.55 L518.10 203.67 L517.10 206.72 L516.10 209.76 L515.10 213.13 L514.10 216.12 L513.10 218.52 L512.10 220.37 L511.10 219.83 L510.10 218.59 L509.10 219.80 L508.10 220.62 L507.10 220.27 L506.10 218.34 L505.10 216.11 L504.10 212.86 L503.10 207.51 L502.10 200.88 L501.10 193.03 L500.10 186.03 L499.10 179.96 L498.10 174.86 L497.10 170.57 L496.10 166.42 L495.10 164.55 L494.10 164.29 L493.10 165.86 L492.10 167.45 L491.10 168.87 L490.10 169.69 L489.10 170.80 L488.10 171.82 L487.10 173.24 L486.10 174.93 L485.10 177.27 L484.10 180.35 L483.10 182.92 L482.10 184.75 L481.10 186.19 L480.10 187.65 L479.10 188.99 L478.10 189.72 L477.10 190.41 L476.10 190.80 L475.10 191.15 L474.10 190.68 L473.10 190.21 L472.10 189.99 L471.10 189.89 L470.10 190.80 L469.10 192.20 L468.10 193.95 L467.10 195.82 L466.10 197.39 L465.10 198.90 L464.10 200.35 L463.10 202.54 L462.10 204.81 L461.10 206.39 L460.10 207.85 L459.10 209.35 L458.10 210.85 L457.10 212.09 L456.10 213.06 L455.10 214.05 L454.10 215.04 L453.10 216.50 L452.10 218.19 L451.10 219.51 L450.10 220.79 L449.10 221.64 L448.10 222.45 L447.10 222.80 L446.10 223.10 L445.10 223.24 L444.10 223.22 L443.10 223.01 L442.10 222.45 L441.10 221.67 L440.10 220.92 L439.10 220.26 L438.10 219.60 L437.10 219.13 L436.10 218.77 L435.10 218.84 L434.10 219.51 L433.10 220.29 L432.10 221.31 L431.10 222.58 L430.10 223.84 L429.10 225.07 L428.10 226.23 L427.10 227.40 L426.10 228.26 L425.10 228.77 L424.10 229.39 L423.10 229.96 L422.10 230.29 L421.10 230.62 L420.10 230.83 L419.10 230.56 L418.10 230.28 L417.10 229.85 L416.10 229.55 Z" fill="#55e155" fill-opacity="0.1" stroke="none"/>
<path d="M416.10 221.79 L417.10 220.51 L418.10 219.01 L419.10 217.50 L420.10 215.90 L421.10 214.30 L422.10 212.69 L423.10 210.82 L424.10 208.88 L425.10 206.83 L426.10 204.66 L427.10 202.50 L428.10 200.40 L429.10 198.31 L430.10 196.25 L431.10 194.27 L432.10 192.44 L433.10 190.81 L434.10 189.36 L435.10 187.91 L436.10 186.92 L437.10 185.93 L438.10 185.01 L439.10 183.86 L440.10 182.32 L441.10 179.96 L442.10 177.49 L443.10 174.52 L444.10 170.98 L445.10 167.06 L446.10 162.88 L447.10 158.32 L448.10 153.78 L449.10 148.47 L450.10 142.58 L451.10 138.73 L452.10 135.11 L453.10 131.21 L454.10 127.11 L455.10 122.89 L456.10 118.65 L457.10 114.57 L458.10 110.80 L459.10 107.04 L460.10 102.98 L461.10 98.28 L462.10 93.92 L463.10 89.85 L464.10 86.34 L465.10 83.21 L466.10 80.60 L467.10 78.24 L468.10 76.14 L469.10 74.40 L470.10 73.11 L471.10 72.38 L472.10 72.57 L473.10 73.28 L474.10 74.58 L475.10 76.05 L476.10 78.39 L477.10 80.73 L478.10 83.52 L479.10 86.08 L480.10 88.19 L481.10 89.79 L482.10 91.09 L483.10 92.38 L484.10 92.62 L485.10 93.12 L486.10 92.70 L487.10 91.96 L488.10 90.24 L489.10 88.06 L490.10 84.57 L491.10 79.57 L492.10 73.58 L493.10 67.85 L494.10 62.77 L495.10 58.24 L496.10 54.18 L497.10 50.22 L498.10 46.61 L499.10 43.67 L500.10 42.15 L501.10 42.44 L502.10 44.06 L503.10 46.70 L504.10 49.77 L505.10 54.82 L506.10 60.14 L507.10 65.41 L508.10 70.85 L509.10 76.82 L510.10 82.16 L511.10 86.92 L512.10 91.50 L513.10 96.50 L514.10 102.68 L515.10 110.76 L516.10 116.98 L517.10 125.25 L518.10 134.72 L519.10 144.93 L520.10 154.74 L521.10 162.33 L522.10 167.87 L523.10 171.14 L524.10 173.58 L525.10 175.92 L526.10 178.18 L527.10 180.26 L528.10 182.07 L529.10 183.85 L530.10 185.38 L531.10 186.40 L532.10 187.22 L533.10 188.04 L534.10 188.81 L535.10 189.20 L536.10 189.60 L537.10 189.99 L538.10 190.38 L539.10 190.76 L540.10 191.04 L541.10 191.31 L542.10 191.58 L543.10 191.87 L544.10 192.37 L545.10 193.19 L546.10 194.17 L547.10 195.16 L548.10 196.15 L549.10 197.18 L550.10 198.20 L551.10 199.23 L552.10 200.25 L553.10 201.53 L554.10 202.84 L555.10 204.15 L556.10 205.46 L557.10 206.68 L558.10 207.91 L559.10 209.14 L560.10 210.20 L561.10 211.21 L562.10 212.23 L563.10 213.22 L564.10 214.74 L565.10 217.28 L566.10 220.18 L566.50 221.96 L566.50 226.84 L566.10 228.18 L565.10 230.00 L564.10 231.46 L563.10 231.89 L562.10 231.41 L561.10 230.91 L560.10 230.42 L559.10 229.87 L558.10 229.16 L557.10 228.45 L556.10 227.74 L555.10 226.95 L554.10 226.16 L553.10 225.36 L552.10 224.60 L551.10 224.10 L550.10 223.60 L549.10 223.10 L548.10 222.60 L547.10 222.13 L546.10 221.67 L545.10 221.21 L544.10 220.58 L543.10 219.88 L542.10 219.01 L541.10 218.13 L540.10 217.24 L539.10 216.35 L538.10 215.36 L537.10 214.35 L536.10 213.34 L535.10 212.34 L534.10 211.33 L533.10 209.94 L532.10 208.51 L531.10 207.08 L530.10 205.84 L529.10 204.53 L528.10 203.41 L527.10 202.31 L526.10 200.93 L525.10 199.37 L524.10 197.75 L523.10 196.01 L522.10 194.82 L521.10 194.79 L520.10 196.81 L519.10 200.33 L518.10 204.16 L517.10 207.33 L516.10 209.30 L515.10 209.24 L514.10 204.38 L513.10 198.50 L512.10 193.50 L511.10 188.92 L510.10 185.34 L509.10 182.51 L508.10 180.37 L507.10 178.89 L506.10 177.52 L505.10 175.54 L504.10 173.24 L503.10 172.42 L502.10 172.04 L501.10 172.66 L500.10 173.67 L499.10 174.60 L498.10 175.05 L497.10 175.22 L496.10 175.75 L495.10 176.36 L494.10 176.66 L493.10 176.50 L492.10 175.99 L491.10 175.54 L490.10 175.93 L489.10 177.44 L488.10 180.25 L487.10 183.38 L486.10 184.75 L485.10 184.48 L484.10 181.98 L483.10 179.22 L482.10 175.40 L481.10 171.58 L480.10 168.02 L479.10 165.07 L478.10 162.81 L477.10 160.88 L476.10 159.41 L475.10 157.93 L474.10 157.32 L473.10 156.87 L472.10 157.02 L471.10 157.20 L470.10 157.73 L469.10 158.27 L468.10 159.20 L467.10 160.50 L466.10 162.05 L465.10 163.77 L464.10 165.60 L463.10 167.39 L462.10 169.41 L461.10 171.78 L460.10 174.73 L459.10 177.27 L458.10 179.66 L457.10 182.07 L456.10 184.48 L455.10 186.72 L454.10 188.58 L453.10 190.30 L452.10 192.33 L451.10 194.80 L450.10 198.22 L449.10 202.91 L448.10 205.76 L447.10 206.59 L446.10 207.20 L445.10 207.42 L444.10 207.84 L443.10 208.41 L442.10 208.93 L441.10 209.00 L440.10 208.96 L439.10 208.80 L438.10 209.04 L437.10 209.82 L436.10 210.76 L435.10 211.69 L434.10 213.08 L433.10 214.48 L432.10 215.78 L431.10 216.98 L430.10 218.04 L429.10 219.15 L428.10 220.29 L427.10 221.44 L426.10 222.66 L425.10 223.88 L424.10 224.88 L423.10 225.67 L422.10 226.29 L421.10 226.63 L420.10 226.96 L419.10 227.30 L418.10 227.54 L417.10 227.77 L416.10 228.21 Z" fill="#412dd7" fill-opacity="0.1" stroke="none"/>
<path d="M416.10 219.00 C416.43 218.63 417.28 218.22 418.10 216.80 C418.92 215.38 419.98 212.88 421.00 210.50 C422.02 208.12 423.32 204.75 424.20 202.50 C425.08 200.25 425.62 198.87 426.30 197.00 C426.98 195.13 427.63 192.88 428.30 191.30 C428.97 189.72 429.62 188.52 430.30 187.50 C430.98 186.48 431.70 185.82 432.40 185.20 C433.10 184.58 433.82 184.17 434.50 183.80 C435.18 183.43 435.88 183.33 436.50 183.00 C437.12 182.67 437.68 182.28 438.20 181.80 C438.72 181.32 439.08 180.98 439.60 180.10 C440.12 179.22 440.73 178.07 441.30 176.50 C441.87 174.93 442.30 172.53 443.00 170.70 C443.70 168.87 444.65 166.97 445.50 165.50 C446.35 164.03 447.18 163.07 448.10 161.90 C449.02 160.73 449.90 159.60 451.00 158.50 C452.10 157.40 453.45 156.38 454.70 155.30 C455.95 154.22 457.28 153.08 458.50 152.00 C459.72 150.92 460.83 149.88 462.00 148.80 C463.17 147.72 464.28 146.48 465.50 145.50 C466.72 144.52 467.93 143.42 469.30 142.90 C470.67 142.38 472.58 142.25 473.70 142.40 C474.82 142.55 475.20 143.17 476.00 143.80 C476.80 144.43 477.53 145.10 478.50 146.20 C479.47 147.30 480.63 149.02 481.80 150.40 C482.97 151.78 484.28 153.25 485.50 154.50 C486.72 155.75 488.02 156.77 489.10 157.90 C490.18 159.03 491.02 160.08 492.00 161.30 C492.98 162.52 494.08 163.83 495.00 165.20 C495.92 166.57 496.65 167.87 497.50 169.50 C498.35 171.13 499.23 173.33 500.10 175.00 C500.97 176.67 501.92 177.92 502.70 179.50 C503.48 181.08 504.08 182.92 504.80 184.50 C505.52 186.08 506.28 187.67 507.00 189.00 C507.72 190.33 508.43 191.53 509.10 192.50 C509.77 193.47 510.38 194.28 511.00 194.80 C511.62 195.32 512.13 195.60 512.80 195.60 C513.47 195.60 514.15 195.27 515.00 194.80 C515.85 194.33 516.93 193.60 517.90 192.80 C518.87 192.00 519.83 190.82 520.80 190.00 C521.77 189.18 522.75 188.20 523.70 187.90 C524.65 187.60 525.52 187.98 526.50 188.20 C527.48 188.42 528.52 188.85 529.60 189.20 C530.68 189.55 531.78 190.00 533.00 190.30 C534.22 190.60 535.73 190.85 536.90 191.00 C538.07 191.15 539.03 191.27 540.00 191.20 C540.97 191.13 541.78 190.92 542.70 190.60 C543.62 190.28 544.52 189.90 545.50 189.30 C546.48 188.70 547.60 187.80 548.60 187.00 C549.60 186.20 550.53 185.35 551.50 184.50 C552.47 183.65 553.32 182.65 554.40 181.90 C555.48 181.15 556.78 180.53 558.00 180.00 C559.22 179.47 560.62 179.03 561.70 178.70 C562.78 178.37 563.53 178.25 564.50 178.00 C565.47 177.75 566.62 177.52 567.50 177.20 C568.38 176.88 569.07 176.53 569.80 176.10 C570.53 175.67 571.20 174.95 571.90 174.60 C572.60 174.25 573.32 174.12 574.00 174.00 C574.68 173.88 575.03 173.77 576.00 173.90 C576.97 174.03 578.55 175.03 579.80 174.80 C581.05 174.57 582.32 173.35 583.50 172.50 C584.68 171.65 585.82 170.53 586.90 169.70 C587.98 168.87 588.98 168.00 590.00 167.50 C591.02 167.00 592.00 166.75 593.00 166.70 C594.00 166.65 594.97 166.87 596.00 167.20 C597.03 167.53 598.15 167.98 599.20 168.70 C600.25 169.42 601.28 170.48 602.30 171.50 C603.32 172.52 604.27 173.68 605.30 174.80 C606.33 175.92 607.25 177.00 608.50 178.20 C609.75 179.40 611.38 180.87 612.80 182.00 C614.22 183.13 615.55 184.07 617.00 185.00 C618.45 185.93 619.83 186.72 621.50 187.60 C623.17 188.48 625.18 189.38 627.00 190.30 C628.82 191.22 630.73 192.02 632.40 193.10 C634.07 194.18 635.53 195.55 637.00 196.80 C638.47 198.05 639.77 199.35 641.20 200.60 C642.63 201.85 644.13 203.02 645.60 204.30 C647.07 205.58 648.53 206.90 650.00 208.30 C651.47 209.70 652.95 211.25 654.40 212.70 C655.85 214.15 657.43 215.78 658.70 217.00 C659.97 218.22 660.90 219.10 662.00 220.00 C663.10 220.90 664.30 221.77 665.30 222.40 C666.30 223.03 667.10 223.43 668.00 223.80 C668.90 224.17 670.25 224.47 670.70 224.60" fill="none" stroke="#d92d28" stroke-width="1.5" stroke-linejoin="round" stroke-linecap="round"/>
<path d="M416.10 227.40 C416.42 227.40 417.30 227.47 418.00 227.40 C418.70 227.33 419.38 227.48 420.30 227.00 C421.22 226.52 422.47 225.52 423.50 224.50 C424.53 223.48 425.50 222.48 426.50 220.90 C427.50 219.32 428.48 217.05 429.50 215.00 C430.52 212.95 431.60 210.43 432.60 208.60 C433.60 206.77 434.65 205.05 435.50 204.00 C436.35 202.95 436.87 202.80 437.70 202.30 C438.53 201.80 439.62 201.35 440.50 201.00 C441.38 200.65 442.17 200.53 443.00 200.20 C443.83 199.87 444.63 199.53 445.50 199.00 C446.37 198.47 447.42 197.73 448.20 197.00 C448.98 196.27 449.57 195.50 450.20 194.60 C450.83 193.70 451.37 192.87 452.00 191.60 C452.63 190.33 453.07 188.93 454.00 187.00 C454.93 185.07 456.60 182.17 457.60 180.00 C458.60 177.83 459.27 175.80 460.00 174.00 C460.73 172.20 461.33 171.03 462.00 169.20 C462.67 167.37 463.27 164.95 464.00 163.00 C464.73 161.05 465.65 159.03 466.40 157.50 C467.15 155.97 467.77 154.77 468.50 153.80 C469.23 152.83 470.05 151.92 470.80 151.70 C471.55 151.48 472.27 152.13 473.00 152.50 C473.73 152.87 474.48 153.77 475.20 153.90 C475.92 154.03 476.58 153.67 477.30 153.30 C478.02 152.93 478.88 152.42 479.50 151.70 C480.12 150.98 480.50 149.98 481.00 149.00 C481.50 148.02 482.03 147.05 482.50 145.80 C482.97 144.55 483.38 143.05 483.80 141.50 C484.22 139.95 484.55 138.17 485.00 136.50 C485.45 134.83 485.97 132.97 486.50 131.50 C487.03 130.03 487.53 128.95 488.20 127.70 C488.87 126.45 489.77 124.97 490.50 124.00 C491.23 123.03 491.93 122.15 492.60 121.90 C493.27 121.65 493.90 122.02 494.50 122.50 C495.10 122.98 495.55 123.43 496.20 124.80 C496.85 126.17 497.67 128.33 498.40 130.70 C499.13 133.07 499.95 136.38 500.60 139.00 C501.25 141.62 501.70 144.23 502.30 146.40 C502.90 148.57 503.45 150.32 504.20 152.00 C504.95 153.68 505.85 155.17 506.80 156.50 C507.75 157.83 509.20 158.58 509.90 160.00 C510.60 161.42 510.60 163.30 511.00 165.00 C511.40 166.70 511.72 168.87 512.30 170.20 C512.88 171.53 513.57 172.38 514.50 173.00 C515.43 173.62 516.90 174.40 517.90 173.90 C518.90 173.40 519.77 171.58 520.50 170.00 C521.23 168.42 521.73 166.07 522.30 164.40 C522.87 162.73 523.28 161.48 523.90 160.00 C524.52 158.52 525.03 156.75 526.00 155.50 C526.97 154.25 528.53 152.83 529.70 152.50 C530.87 152.17 531.80 152.50 533.00 153.50 C534.20 154.50 535.57 157.30 536.90 158.50 C538.23 159.70 539.55 160.08 541.00 160.70 C542.45 161.32 544.35 161.60 545.60 162.20 C546.85 162.80 547.52 163.45 548.50 164.30 C549.48 165.15 550.58 166.18 551.50 167.30 C552.42 168.42 553.27 169.78 554.00 171.00 C554.73 172.22 555.10 172.78 555.90 174.60 C556.70 176.42 557.95 179.67 558.80 181.90 C559.65 184.13 560.27 186.30 561.00 188.00 C561.73 189.70 562.37 190.68 563.20 192.10 C564.03 193.52 565.03 195.28 566.00 196.50 C566.97 197.72 568.00 198.65 569.00 199.40 C570.00 200.15 570.72 200.52 572.00 201.00 C573.28 201.48 575.23 201.57 576.70 202.30 C578.17 203.03 579.43 204.38 580.80 205.40 C582.17 206.42 583.70 207.67 584.90 208.40 C586.10 209.13 586.98 209.45 588.00 209.80 C589.02 210.15 589.83 210.50 591.00 210.50 C592.17 210.50 593.63 210.15 595.00 209.80 C596.37 209.45 597.82 208.45 599.20 208.40 C600.58 208.35 601.93 208.98 603.30 209.50 C604.67 210.02 606.03 210.75 607.40 211.50 C608.77 212.25 610.15 213.15 611.50 214.00 C612.85 214.85 614.15 215.73 615.50 216.60 C616.85 217.47 618.23 218.35 619.60 219.20 C620.97 220.05 621.97 220.85 623.70 221.70 C625.43 222.55 627.78 223.62 630.00 224.30 C632.22 224.98 635.83 225.55 637.00 225.80" fill="none" stroke="#238f36" stroke-width="1.5" stroke-linejoin="round" stroke-linecap="round"/>
<path d="M416.10 225.00 C416.58 224.58 417.95 223.47 419.00 222.50 C420.05 221.53 421.47 220.25 422.40 219.20 C423.33 218.15 423.80 217.43 424.60 216.20 C425.40 214.97 426.33 213.23 427.20 211.80 C428.07 210.37 428.92 208.98 429.80 207.60 C430.68 206.22 431.62 204.80 432.50 203.50 C433.38 202.20 434.23 200.83 435.10 199.80 C435.97 198.77 436.83 198.02 437.70 197.30 C438.57 196.58 439.50 196.27 440.30 195.50 C441.10 194.73 441.83 193.78 442.50 192.70 C443.17 191.62 443.67 190.35 444.30 189.00 C444.93 187.65 445.65 186.18 446.30 184.60 C446.95 183.02 447.67 181.27 448.20 179.50 C448.73 177.73 449.15 175.72 449.50 174.00 C449.85 172.28 449.80 171.12 450.30 169.20 C450.80 167.28 451.77 164.68 452.50 162.50 C453.23 160.32 453.92 158.52 454.70 156.10 C455.48 153.68 456.35 150.68 457.20 148.00 C458.05 145.32 459.08 142.42 459.80 140.00 C460.52 137.58 460.90 135.55 461.50 133.50 C462.10 131.45 462.73 129.53 463.40 127.70 C464.07 125.87 464.78 124.08 465.50 122.50 C466.22 120.92 467.03 119.32 467.70 118.20 C468.37 117.08 468.88 116.40 469.50 115.80 C470.12 115.20 470.78 114.72 471.40 114.60 C472.02 114.48 472.60 114.73 473.20 115.10 C473.80 115.47 474.33 115.82 475.00 116.80 C475.67 117.78 476.47 119.42 477.20 121.00 C477.93 122.58 478.72 124.60 479.40 126.30 C480.08 128.00 480.68 129.62 481.30 131.20 C481.92 132.78 482.43 134.48 483.10 135.80 C483.77 137.12 484.68 138.67 485.30 139.10 C485.92 139.53 486.32 139.08 486.80 138.40 C487.28 137.72 487.60 136.48 488.20 135.00 C488.80 133.52 489.67 131.43 490.40 129.50 C491.13 127.57 491.87 125.32 492.60 123.40 C493.33 121.48 494.08 119.72 494.80 118.00 C495.52 116.28 496.23 114.52 496.90 113.10 C497.57 111.68 498.18 110.47 498.80 109.50 C499.42 108.53 500.00 107.52 500.60 107.30 C501.20 107.08 501.80 107.47 502.40 108.20 C503.00 108.93 503.65 110.15 504.20 111.70 C504.75 113.25 505.08 115.32 505.70 117.50 C506.32 119.68 507.22 122.30 507.90 124.80 C508.58 127.30 509.18 129.97 509.80 132.50 C510.42 135.03 511.00 137.25 511.60 140.00 C512.20 142.75 512.82 145.67 513.40 149.00 C513.98 152.33 514.35 156.70 515.10 160.00 C515.85 163.30 517.08 166.22 517.90 168.80 C518.72 171.38 519.27 173.32 520.00 175.50 C520.73 177.68 521.55 180.07 522.30 181.90 C523.05 183.73 523.77 185.03 524.50 186.50 C525.23 187.97 525.78 189.20 526.70 190.70 C527.62 192.20 528.78 193.95 530.00 195.50 C531.22 197.05 532.50 198.67 534.00 200.00 C535.50 201.33 537.33 202.43 539.00 203.50 C540.67 204.57 542.50 205.43 544.00 206.40 C545.50 207.37 546.63 208.28 548.00 209.30 C549.37 210.32 550.87 211.30 552.20 212.50 C553.53 213.70 554.82 215.30 556.00 216.50 C557.18 217.70 558.13 218.70 559.30 219.70 C560.47 220.70 561.80 221.72 563.00 222.50 C564.20 223.28 565.92 224.08 566.50 224.40" fill="none" stroke="#4646b0" stroke-width="1.5" stroke-linejoin="round" stroke-linecap="round"/>
<rect x="592.40" y="38.40" width="85.30" height="55.20" rx="2.2" fill="#fff" fill-opacity="0.8" stroke="#e4e4e4" stroke-width="1"/>
<line x1="596.50" y1="47.50" x2="621.00" y2="47.50" stroke="#d92d28" stroke-width="1.5"/>
<text x="630.30" y="51.80" font-size="12.5" fill="#1a1a1a" textLength="29.60" lengthAdjust="spacingAndGlyphs">LBBB</text>
<line x1="596.50" y1="64.50" x2="621.00" y2="64.50" stroke="#238f36" stroke-width="1.5"/>
<text x="630.30" y="68.80" font-size="12.5" fill="#1a1a1a" textLength="29.60" lengthAdjust="spacingAndGlyphs">RBBB</text>
<line x1="596.50" y1="82.50" x2="621.00" y2="82.50" stroke="#4646b0" stroke-width="1.5"/>
<text x="630.30" y="86.80" font-size="12.5" fill="#1a1a1a" textLength="41.00" lengthAdjust="spacingAndGlyphs">Control</text>
<rect x="403.50" y="32.40" width="279.75" height="210.60" fill="none" stroke="#2a2a2a" stroke-width="0.85"/>
<line x1="400.20" y1="230.30" x2="403.50" y2="230.30" stroke="#222" stroke-width="0.85"/>
<text x="396.60" y="234.60" font-size="13.6" fill="#1a1a1a" text-anchor="end" textLength="6.80" lengthAdjust="spacingAndGlyphs">0</text>
<line x1="400.20" y1="200.65" x2="403.50" y2="200.65" stroke="#222" stroke-width="0.85"/>
<text x="396.60" y="204.95" font-size="13.6" fill="#1a1a1a" text-anchor="end" textLength="13.80" lengthAdjust="spacingAndGlyphs">25</text>
<line x1="400.20" y1="171.00" x2="403.50" y2="171.00" stroke="#222" stroke-width="0.85"/>
<text x="396.60" y="175.30" font-size="13.6" fill="#1a1a1a" text-anchor="end" textLength="13.80" lengthAdjust="spacingAndGlyphs">50</text>
<line x1="400.20" y1="141.35" x2="403.50" y2="141.35" stroke="#222" stroke-width="0.85"/>
<text x="396.60" y="145.65" font-size="13.6" fill="#1a1a1a" text-anchor="end" textLength="13.80" lengthAdjust="spacingAndGlyphs">75</text>
<line x1="400.20" y1="111.70" x2="403.50" y2="111.70" stroke="#222" stroke-width="0.85"/>
<text x="396.60" y="116.00" font-size="13.6" fill="#1a1a1a" text-anchor="end" textLength="20.80" lengthAdjust="spacingAndGlyphs">100</text>
<line x1="400.20" y1="82.05" x2="403.50" y2="82.05" stroke="#222" stroke-width="0.85"/>
<text x="396.60" y="86.35" font-size="13.6" fill="#1a1a1a" text-anchor="end" textLength="20.80" lengthAdjust="spacingAndGlyphs">125</text>
<line x1="400.20" y1="52.40" x2="403.50" y2="52.40" stroke="#222" stroke-width="0.85"/>
<text x="396.60" y="56.70" font-size="13.6" fill="#1a1a1a" text-anchor="end" textLength="20.80" lengthAdjust="spacingAndGlyphs">150</text>
<line x1="415.90" y1="243.00" x2="415.90" y2="246.30" stroke="#222" stroke-width="0.85"/>
<text x="415.60" y="257.10" font-size="13.6" fill="#1a1a1a" text-anchor="middle" textLength="6.60" lengthAdjust="spacingAndGlyphs">0</text>
<line x1="494.40" y1="243.00" x2="494.40" y2="246.30" stroke="#222" stroke-width="0.85"/>
<text x="494.10" y="257.10" font-size="13.6" fill="#1a1a1a" text-anchor="middle" textLength="13.00" lengthAdjust="spacingAndGlyphs">50</text>
<line x1="572.90" y1="243.00" x2="572.90" y2="246.30" stroke="#222" stroke-width="0.85"/>
<text x="572.60" y="257.10" font-size="13.6" fill="#1a1a1a" text-anchor="middle" textLength="20.40" lengthAdjust="spacingAndGlyphs">100</text>
<line x1="651.40" y1="243.00" x2="651.40" y2="246.30" stroke="#222" stroke-width="0.85"/>
<text x="651.10" y="257.10" font-size="13.6" fill="#1a1a1a" text-anchor="middle" textLength="20.40" lengthAdjust="spacingAndGlyphs">150</text>
<text x="542.70" y="271.60" font-size="12.4" fill="#1a1a1a" text-anchor="middle" textLength="56.50" lengthAdjust="spacingAndGlyphs">time (ms)</text>
<text transform="translate(369.60 137.80) rotate(-90)" x="0" y="0" font-size="12.4" fill="#1a1a1a" text-anchor="middle" textLength="90.50" lengthAdjust="spacingAndGlyphs">speed (mV/ms)</text>
<text x="363.50" y="16.20" font-size="21.5" fill="#000" style="font-family:'Liberation Serif',serif">b</text>
</svg></body></html>
